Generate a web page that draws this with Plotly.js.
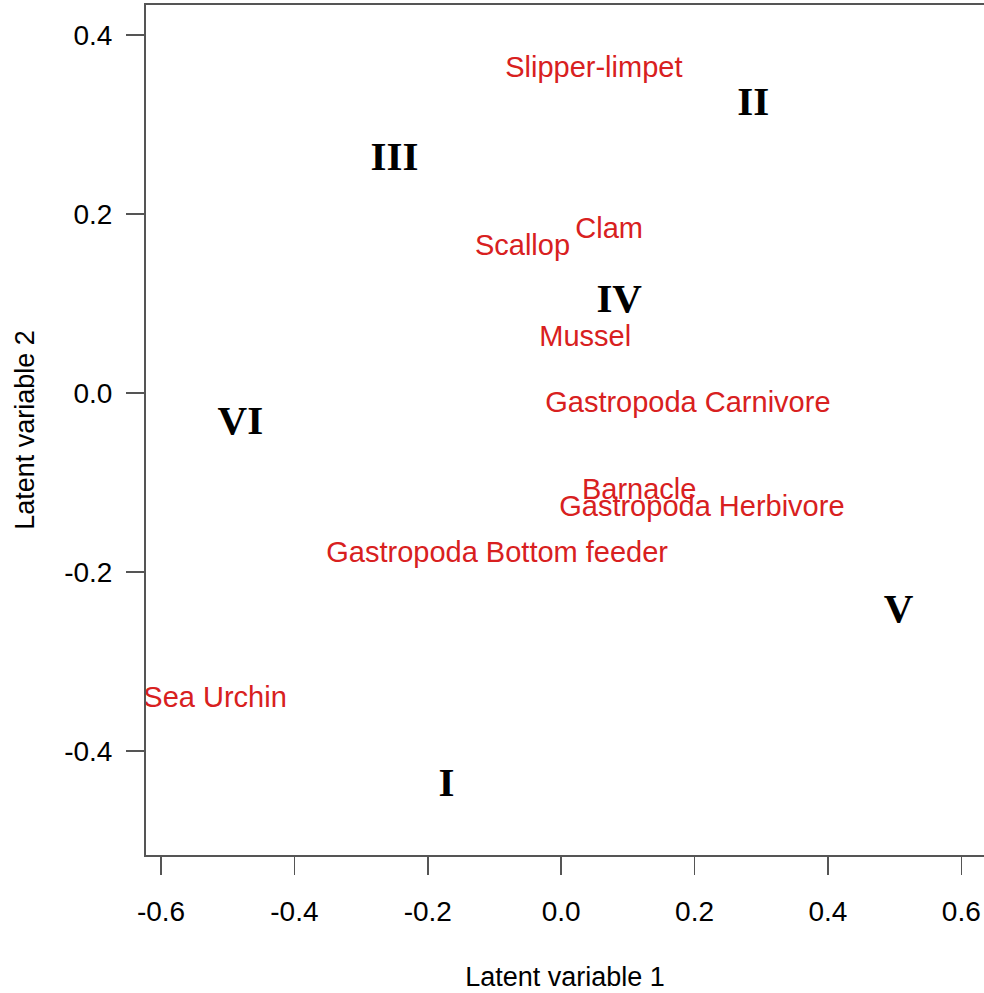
<!DOCTYPE html>
<html>
<head>
<meta charset="utf-8">
<script src="https://cdn.plot.ly/plotly-3.0.1.min.js"></script>
<style>html,body{margin:0;padding:0;background:#fff;overflow:hidden}</style>
</head>
<body>
<div id="chart" style="width:984px;height:993px"></div>
<script>
// Species labels (red)
const speciesNames = ["Slipper-limpet","Clam","Scallop","Mussel","Gastropoda Carnivore","Barnacle","Gastropoda Herbivore","Gastropoda Bottom feeder","Sea Urchin"];
const speciesX = [0.049, 0.072, -0.058, 0.036, 0.190, 0.117, 0.211, -0.096, -0.519];
const speciesY = [0.361, 0.181, 0.162, 0.061, -0.013, -0.110, -0.129, -0.181, -0.343];

// Site group labels (black roman numerals)
const groupNames = ["I","II","III","IV","V","VI"];
const groupX = [-0.172, 0.288, -0.250, 0.087, 0.506, -0.481];
const groupY = [-0.439, 0.322, 0.261, 0.102, -0.244, -0.034];

// Axis ticks
const xTicks = [-0.6, -0.4, -0.2, 0.0, 0.2, 0.4, 0.6];
const xTickText = ["-0.6","-0.4","-0.2","0.0","0.2","0.4","0.6"];
const yTicks = [-0.4, -0.2, 0.0, 0.2, 0.4];
const yTickText = ["-0.4","-0.2","0.0","0.2","0.4"];

const traces = [
  {
    x: speciesX, y: speciesY, text: speciesNames,
    mode: "text", type: "scatter", cliponaxis: true,
    textposition: "middle center",
    textfont: {family: "Liberation Sans, Arial, sans-serif", size: 29, color: "#d82020"},
    hoverinfo: "skip", showlegend: false
  },
  {
    x: groupX, y: groupY, text: groupNames,
    mode: "text", type: "scatter", cliponaxis: true,
    textposition: "middle center",
    textfont: {family: "Liberation Serif, Times New Roman, serif", size: 41, color: "#000000", weight: "bold"},
    hoverinfo: "skip", showlegend: false
  }
];

const axisFont = {family: "Liberation Sans, Arial, sans-serif", size: 28, color: "#000"};

const layout = {
  width: 984, height: 993,
  margin: {l: 146, r: 0, t: 5, b: 138},
  paper_bgcolor: "#fff", plot_bgcolor: "#fff",
  xaxis: {
    range: [-0.6225, 0.634],
    tickvals: xTicks, ticktext: xTickText,
    showgrid: false, zeroline: false,
    showline: true, mirror: true, linecolor: "#555", linewidth: 2,
    ticks: "outside", ticklen: 18, tickwidth: 1.5, tickcolor: "#555",
    ticklabelstandoff: 12,
    tickfont: axisFont,
    title: {text: "Latent variable 1", font: {family: "Liberation Sans, Arial, sans-serif", size: 27, color: "#000"}, standoff: 42}
  },
  yaxis: {
    range: [-0.516, 0.4335],
    tickvals: yTicks, ticktext: yTickText,
    showgrid: false, zeroline: false,
    showline: true, mirror: false, linecolor: "#555", linewidth: 2,
    ticks: "outside", ticklen: 18, tickwidth: 1.5, tickcolor: "#555",
    ticklabelstandoff: 8,
    tickfont: axisFont,
    title: {text: "Latent variable 2", font: {family: "Liberation Sans, Arial, sans-serif", size: 27, color: "#000"}, standoff: 22}
  }
};

Plotly.newPlot("chart", traces, layout, {staticPlot: true, displayModeBar: false});
</script>
</body>
</html>
